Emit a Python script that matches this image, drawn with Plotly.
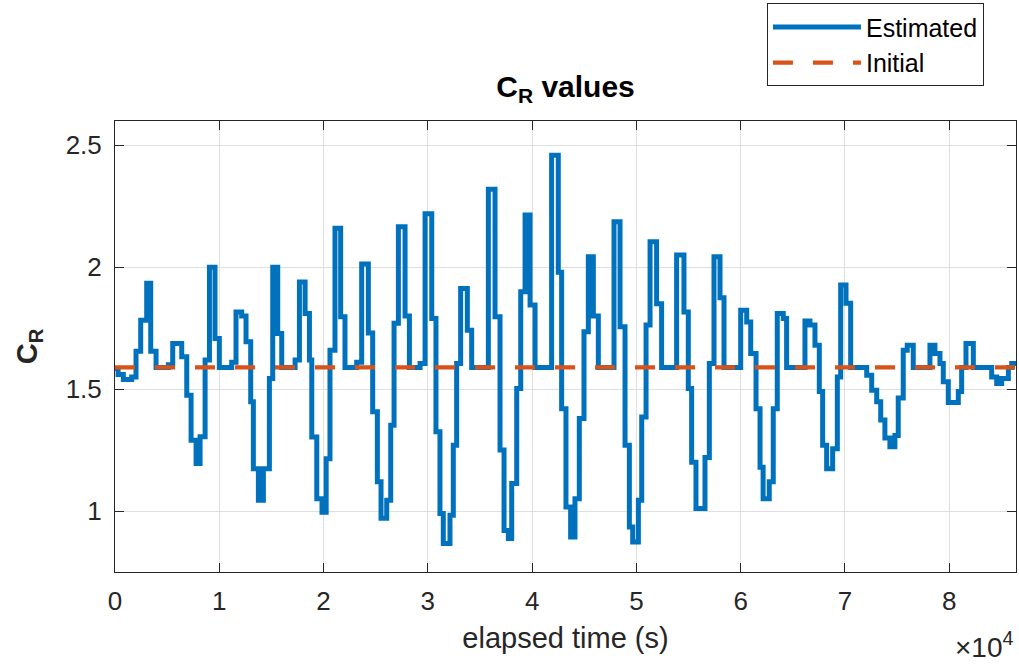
import plotly.graph_objects as go

# Step-change times (s) and estimated C_R values (held until next time)
t_step = [0, 300, 800, 1600, 2016, 2464, 3040, 3424, 3936, 5120, 5536, 6400, 6880, 7296,
          7776, 8160, 8640, 9056, 9589, 10005, 11189, 11605, 12149, 12565, 13013, 13269,
          13749, 14229, 14805, 15125, 15605, 15989, 17269, 17685, 18229, 18645, 18869,
          19349, 19850, 20250, 20615, 21095, 21639, 22055, 23175, 23655, 24295, 24711,
          25159, 25511, 26055, 26439, 26759, 27175, 27815, 28231, 29255, 29735, 30375,
          30778, 31162, 31482, 32122, 32442, 32762, 33146, 33786, 34202, 35802, 36442,
          36922, 37306, 37722, 38042, 38522, 38906, 39322, 39802, 40282, 41869, 42509,
          42829, 43245, 43693, 44109, 44525, 44973, 45389, 45869, 46349, 47853, 48429,
          48909, 49325, 49645, 50189, 50509, 50925, 51309, 51936, 52416, 53856, 54560,
          54976, 55296, 55712, 56576, 56992, 57440, 58016, 58400, 60000, 60576, 60960,
          61472, 61856, 62150, 62739, 63123, 63507, 64083, 64403, 66163, 66643, 67123,
          67539, 67859, 68243, 68819, 69267, 69587, 70099, 70547, 72083, 72563, 73043,
          73427, 73828, 74308, 74788, 75108, 75588, 75972, 76548, 78148, 78628, 79108,
          79428, 79908, 80868, 81188, 81604, 82308, 84068, 84548, 85028, 85668, 85988,
          86400]
cr_est = [1.585, 1.56, 1.54, 1.55, 1.656, 1.783, 1.934, 1.656, 1.589, 1.60, 1.687, 1.633,
          1.475, 1.29, 1.195, 1.305, 1.62, 2.0, 1.708, 1.589, 1.61, 1.817, 1.80, 1.694,
          1.448, 1.174, 1.044, 1.174, 1.544, 2.0, 1.728, 1.589, 1.62, 1.94, 1.81, 1.62,
          1.304, 1.05, 0.995, 1.215, 1.66, 2.16, 1.797, 1.589, 1.61, 2.013, 1.73, 1.407,
          1.12, 0.97, 1.044, 1.352, 1.77, 2.166, 1.80, 1.589, 1.605, 2.22, 1.79, 1.325,
          0.99, 0.867, 0.983, 1.27, 1.605, 1.913, 1.742, 1.589, 2.32, 1.797, 1.25, 0.92,
          0.887, 1.113, 1.503, 1.90, 2.214, 1.845, 1.589, 2.46, 1.98, 1.42, 1.017, 0.894,
          1.05, 1.38, 1.735, 2.043, 1.80, 1.589, 2.187, 1.756, 1.27, 0.935, 0.873, 1.044,
          1.386, 1.763, 2.105, 1.85, 1.589, 2.05, 1.817, 1.503, 1.20, 1.01, 1.22, 1.605,
          2.043, 1.875, 1.589, 1.824, 1.776, 1.646, 1.42, 1.18, 1.05, 1.12, 1.42, 1.81,
          1.79, 1.589, 1.78, 1.763, 1.68, 1.49, 1.27, 1.174, 1.256, 1.55, 1.927, 1.852,
          1.589, 1.557, 1.496, 1.448, 1.373, 1.30, 1.264, 1.31, 1.464, 1.66, 1.68, 1.589,
          1.68, 1.646, 1.605, 1.53, 1.445, 1.49, 1.589, 1.687, 1.589, 1.55, 1.523, 1.544,
          1.589, 1.605, 1.605]

t_init = [0, 86400]
cr_init = [1.589, 1.589]

x_tick_vals = [0, 10000, 20000, 30000, 40000, 50000, 60000, 70000, 80000]
x_tick_text = ["0", "1", "2", "3", "4", "5", "6", "7", "8"]
y_tick_vals = [1, 1.5, 2, 2.5]
y_tick_text = ["1", "1.5", "2", "2.5"]

FONT = "Liberation Sans, Arial, Helvetica, sans-serif"
AX = "#262626"
GRID = "#dfdfdf"

fig = go.Figure()
fig.add_trace(go.Scatter(x=t_step, y=cr_est, mode="lines", name="Estimated",
                         line=dict(color="#0072BD", width=5, shape="hv")))
fig.add_trace(go.Scatter(x=t_init, y=cr_init, mode="lines", name="Initial",
                         line=dict(color="#D95319", width=4.3, dash="20px,20px")))

axis_common = dict(showline=True, linecolor=AX, linewidth=1, mirror="ticks",
                   ticks="inside", ticklen=9, tickcolor=AX, tickwidth=1,
                   showgrid=True, gridcolor=GRID, gridwidth=1, zeroline=False,
                   tickfont=dict(family=FONT, size=26, color=AX))

fig.update_xaxes(range=[0, 86400], tickvals=x_tick_vals, ticktext=x_tick_text,
                 ticklabelstandoff=6,
                 title=dict(text="elapsed time (s)", font=dict(family=FONT, size=29, color=AX),
                            standoff=12),
                 **axis_common)
fig.update_yaxes(range=[0.75, 2.6], tickvals=y_tick_vals, ticktext=y_tick_text,
                 ticklabelstandoff=7,
                 title=dict(text="<b>C<sub>R</sub></b>", font=dict(family=FONT, size=29, color=AX),
                            standoff=19),
                 **axis_common)

fig.add_annotation(xref="paper", yref="paper", x=1.0, y=-0.162, xanchor="right", yanchor="middle",
                   text="×10<sup>4</sup>", showarrow=False,
                   font=dict(family=FONT, size=28, color=AX))

fig.update_layout(
    width=1019, height=664,
    margin=dict(l=115, r=3, t=121, b=92),
    paper_bgcolor="white", plot_bgcolor="white",
    title=dict(text="<b>C<sub>R</sub> values</b>", x=0.5, xref="paper", xanchor="center",
               y=1 - 86 / 664, yref="container", yanchor="middle",
               font=dict(family=FONT, size=30, color="#000")),
    legend=dict(x=0.7236, y=1.2610, xanchor="left", yanchor="top",
                bgcolor="white", bordercolor=AX, borderwidth=1,
                font=dict(family=FONT, size=25, color="#000"), itemwidth=88,
                tracegroupgap=0),
    showlegend=True,
)

fig.write_html("out.html")
